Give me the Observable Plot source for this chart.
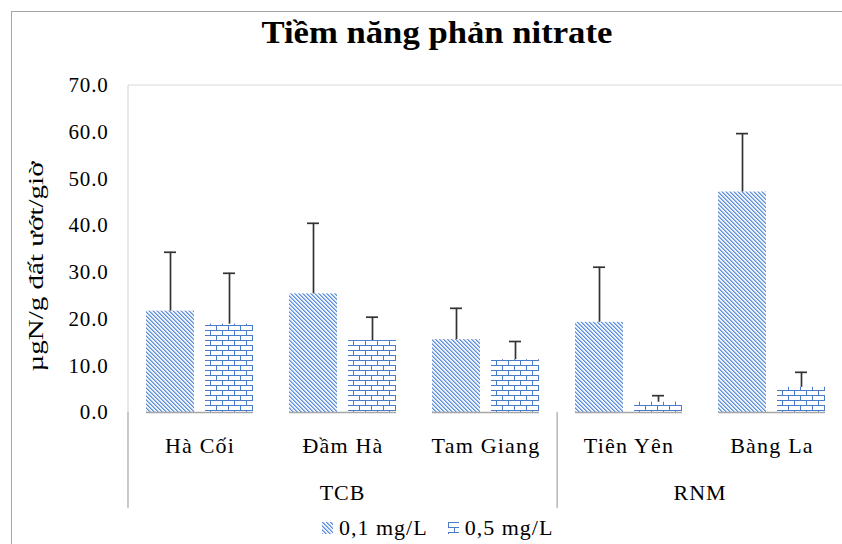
<!DOCTYPE html>
<html><head><meta charset="utf-8">
<script src="https://cdn.jsdelivr.net/npm/d3@7"></script>
<script src="https://cdn.jsdelivr.net/npm/@observablehq/plot@0.6"></script>
<style>
body{margin:0;background:#fff;font-family:"Liberation Serif","Times New Roman",serif;color:#000;}
#wrap{position:relative;width:842px;height:544px;overflow:hidden;background:#fff;}
#frame{position:absolute;left:11px;top:11px;width:900px;height:600px;border:1.5px solid #a6a6a6;box-sizing:border-box;pointer-events:none;}
#titlebox{position:absolute;left:0;top:17px;width:874px;text-align:center;}
#title{display:inline-block;font-family:"Liberation Serif","Times New Roman",serif;font-weight:bold;font-size:31px;line-height:31px;transform-origin:50% 50%;white-space:nowrap;}
#chart{position:absolute;left:0;top:60px;}
#legend{position:absolute;left:322px;top:515px;height:26px;display:flex;align-items:center;font-family:"Liberation Serif","Times New Roman",serif;font-size:22px;letter-spacing:1px;white-space:nowrap;}
#legend .it{display:flex;align-items:center;margin-right:20px;}
#legend svg{margin-right:6px;}
#chart text{font-family:"Liberation Serif","Times New Roman",serif;}
</style></head>
<body><div id="wrap"><div id="frame"></div><div id="titlebox"><span id="title">Tiềm năng phản nitrate</span></div><div id="chart"></div><div id="legend"></div></div>
<script>
const sites = ["Hà Cối", "Đầm Hà", "Tam Giang", "Tiên Yên", "Bàng La"];
const groups = ["TCB", "TCB", "TCB", "RNM", "RNM"];
const series = ["0,1 mg/L", "0,5 mg/L"];
const mean01 = [21.7, 25.4, 15.6, 19.3, 47.2];
const err01 = [12.6, 15.1, 6.7, 11.8, 12.5];
const mean05 = [18.9, 15.4, 11.3, 2.2, 5.4];
const err05 = [10.9, 5.0, 3.9, 1.4, 3.2];
const yTicks = [0, 10, 20, 30, 40, 50, 60, 70];
const yLabel = "µgN/g đất ướt/giờ";

const rows = [];
sites.forEach((s, i) => {
  rows.push({site: s, group: groups[i], series: series[0], value: mean01[i], err: err01[i]});
  rows.push({site: s, group: groups[i], series: series[1], value: mean05[i], err: err05[i]});
});

const t = document.getElementById("title");
t.style.transform = `scaleX(${351 / t.getBoundingClientRect().width})`;

const serif = '"Liberation Serif", "Times New Roman", serif';
const fxPadIn = 0.25, fxPadOut = 0.125;
const plot = Plot.plot({
  width: 842, height: 456,
  marginLeft: 128, marginRight: -2, marginTop: 25, marginBottom: 104,
  style: {fontFamily: serif, fontSize: "21px", color: "#000", background: "transparent", overflow: "visible"},
  facet: {data: rows, x: "site"},
  fx: {domain: sites, paddingInner: fxPadIn, paddingOuter: fxPadOut, round: true, axis: "bottom", label: null, tickSize: 0, tickPadding: 25},
  x: {domain: series, axis: null, paddingInner: 0.19, paddingOuter: 0, round: true},
  y: {domain: [0, 70], ticks: yTicks, tickFormat: d3.format(".1f"), tickSize: 0, tickPadding: 38, label: null},
  color: {domain: series, range: ["url(#hatch)", "url(#brick)"]},
  marks: [
    Plot.barY(rows, {x: "series", y: "value", fill: "series"}),
    Plot.ruleX(rows, {x: "series", y1: "value", y2: d => d.value + d.err, stroke: "#333", strokeWidth: 1.7}),
    Plot.tickY(rows, {x: "series", y: d => d.value + d.err, stroke: "#333", strokeWidth: 1.7, insetLeft: 18, insetRight: 18}),
    Plot.ruleY([0], {stroke: "#a6a6a6", strokeWidth: 1.5})
  ]
});
document.getElementById("chart").appendChild(plot);

const svg = d3.select(plot);
svg.selectAll("text").attr("letter-spacing", "0.8px").attr("font-family", serif);
svg.selectAll("text").filter(function() { return sites.includes(this.textContent); })
  .attr("font-size", 22).attr("letter-spacing", "1.2px");

const defs = svg.insert("defs", ":first-child");
const h = defs.append("pattern").attr("id", "hatch").attr("patternUnits", "userSpaceOnUse").attr("width", 4).attr("height", 4);
h.append("rect").attr("width", 4).attr("height", 4).attr("fill", "#eef3fb");
for (let i = 0; i < 4; i++) {
  h.append("rect").attr("x", i).attr("y", i).attr("width", 1).attr("height", 1).attr("fill", "#5f8fd6");
  h.append("rect").attr("x", (i + 1) % 4).attr("y", i).attr("width", 1).attr("height", 1).attr("fill", "#9dbbe8");
}
const b = defs.append("pattern").attr("id", "brick").attr("patternUnits", "userSpaceOnUse").attr("width", 12).attr("height", 10);
b.append("rect").attr("width", 12).attr("height", 10).attr("fill", "#fff");
b.append("path").attr("d", "M0,0.5H12M0,5.5H12M0.5,0V5.5M6.5,5.5V10").attr("stroke", "#4a7bc9").attr("stroke-width", 1.2).attr("shape-rendering", "crispEdges");

const fx = plot.scale("fx"), y = plot.scale("y");
const step = fx.apply(sites[1]) - fx.apply(sites[0]);
const left = fx.range[0], right = fx.range[1];
const yTop = y.apply(70), y0 = y.apply(0), yBot = 448;
const lines = svg.append("g");
lines.append("line").attr("x1", left).attr("x2", right).attr("y1", yTop).attr("y2", yTop).attr("stroke", "#d9d9d9").attr("stroke-width", 1.2);
lines.append("line").attr("x1", left).attr("x2", left).attr("y1", yTop).attr("y2", y0).attr("stroke", "#d9d9d9").attr("stroke-width", 1.2);
lines.append("line").attr("x1", left).attr("x2", left).attr("y1", y0).attr("y2", yBot).attr("stroke", "#a6a6a6").attr("stroke-width", 1.2);
const groupNames = [...new Set(groups)];
let bounds = [left];
groupNames.forEach(g => {
  const last = sites[groups.lastIndexOf(g)];
  bounds.push(fx.apply(last) + step * (1 - fxPadIn) + step * fxPadIn / 2);
});
bounds.slice(1, -1).forEach(xb => {
  lines.append("line").attr("x1", xb).attr("x2", xb).attr("y1", y0).attr("y2", yBot).attr("stroke", "#a6a6a6").attr("stroke-width", 1.2);
});
groupNames.forEach((g, i) => {
  lines.append("text").attr("x", (bounds[i] + Math.min(bounds[i + 1], right)) / 2).attr("y", 440)
    .attr("text-anchor", "middle").attr("font-size", 22).attr("font-family", serif).attr("letter-spacing", "1px").text(g);
});
svg.append("text").attr("transform", `translate(43,${(yTop + y0) / 2 + 18}) rotate(-90)`)
  .attr("text-anchor", "middle").attr("font-size", 22).attr("font-family", serif)
  .attr("textLength", 210).attr("lengthAdjust", "spacingAndGlyphs").text(yLabel);

const lg = d3.select("#legend");
series.forEach((s, i) => {
  const it = lg.append("div").attr("class", "it");
  const sw = it.append("svg").attr("width", 11).attr("height", 12);
  sw.append("rect").attr("width", 11).attr("height", 12).attr("fill", i === 0 ? "url(#hatch)" : "url(#brick)");
  it.append("span").text(s);
});
</script></body></html>
